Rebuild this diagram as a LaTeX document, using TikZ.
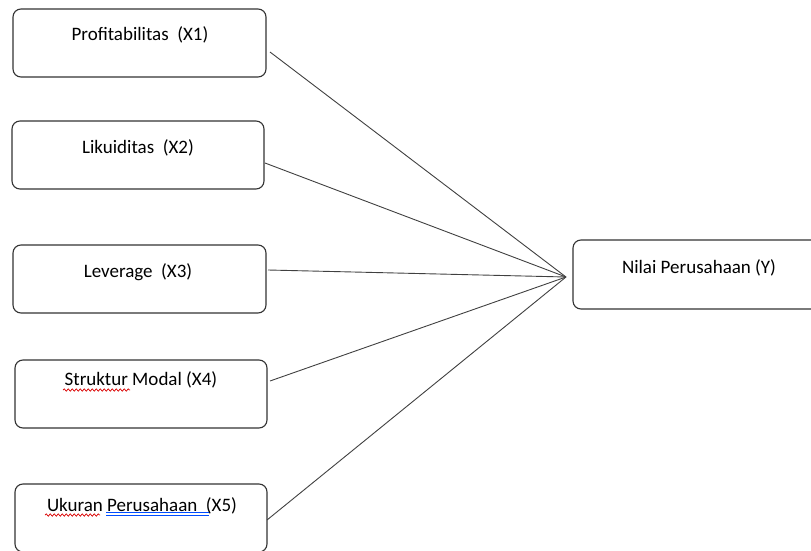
\documentclass[tikz,border=0pt]{standalone}
\usepackage{fontspec}
\setmainfont{Carlito}
\usetikzlibrary{decorations.pathmorphing}
\begin{document}
\begin{tikzpicture}[x=1pt,y=-1pt,
  box/.style={draw=black!80,line width=1.1pt,rounded corners=8pt,inner sep=0pt},
  lbl/.style={font=\fontsize{19}{22}\selectfont,text=black,inner sep=0pt},
  link/.style={draw=black!75,line width=0.9pt},
  squig/.style={draw=red!85!black,line width=0.7pt,decorate,decoration={snake,amplitude=1.2pt,segment length=4pt}},
  blueline/.style={draw=blue!70!cyan,line width=0.8pt}]
\useasboundingbox (0,0) rectangle (811,551);
\clip (0,0) rectangle (811,551);
\node[box,minimum width=253pt,minimum height=68pt] (b1) at (139.5,43) {};
\node[box,minimum width=252pt,minimum height=68pt] (b2) at (138,155) {};
\node[box,minimum width=253pt,minimum height=68pt] (b3) at (139.5,279) {};
\node[box,minimum width=252pt,minimum height=68pt] (b4) at (141,394) {};
\node[box,minimum width=252pt,minimum height=68pt] (b5) at (141,518) {};
\node[box,minimum width=250pt,minimum height=69pt] (by) at (698,274.5) {};
\node[lbl] (t1) at (140,35) {Profitabilitas\ \ (X1)};
\node[lbl] (t2) at (138,148) {Likuiditas\ \ (X2)};
\node[lbl] (t3) at (138,272) {Leverage\ \ (X3)};
\node[lbl] (t4) at (141,380) {Struktur Modal (X4)};
\node[lbl] (t5) at (142,506) {Ukuran Perusahaan\ \ (X5)};
\node[lbl] (ty) at (699,268) {Nilai Perusahaan (Y)};
\coordinate (c) at (566,277);
\coordinate (p1) at (270,52);
\coordinate (p2) at (265,163);
\coordinate (p3) at (268,270);
\coordinate (p4) at (270,381);
\coordinate (p5) at (267,520);
\foreach \p in {p1,p2,p3,p4,p5} \draw[link] (\p) -- (c);
\coordinate (s4a) at (63,390);
\coordinate (s4b) at (130,390);
\draw[squig] (s4a) -- (s4b);
\coordinate (s5a) at (45,515);
\coordinate (s5b) at (100,515);
\draw[squig] (s5a) -- (s5b);
\coordinate (u5a) at (106,512.3);
\coordinate (u5b) at (209,512.3);
\coordinate (u5c) at (106,515.7);
\coordinate (u5d) at (209,515.7);
\draw[blueline] (u5a) -- (u5b);
\draw[blueline] (u5c) -- (u5d);
\end{tikzpicture}
\end{document}
